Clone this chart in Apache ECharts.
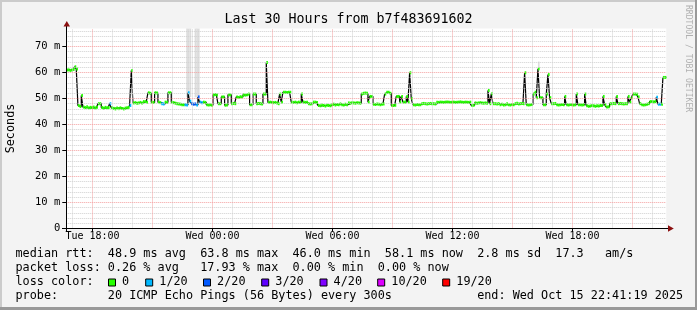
<!DOCTYPE html>
<html><head><meta charset="utf-8">
<script src="https://cdn.jsdelivr.net/npm/echarts@6/dist/echarts.min.js"></script>
<style>html,body{margin:0;padding:0;background:#f3f3f3}#c{width:697px;height:310px}</style>
</head><body><div id="c"></div>
<script>
// ---- data ----
const startHour = 16 + 41/60 + 19/3600;   // Tue 16:41:19, hours since Tue 00:00
const spanHours = 30;
const stepHours = 5/60;                   // 300 s steps
// median rtt in ms, one row per hour (12 x 5-min steps)
const medianRtt = [
 61.0,61.0,60.8,61.0,61.2,62.2,61.3,47.3,46.9,51.2,46.7,46.5,
 46.8,46.4,46.6,46.5,46.7,46.4,46.6,48.0,48.0,46.5,46.3,46.6,
 46.4,46.5,48.0,46.4,46.2,46.0,46.3,46.1,46.4,46.2,46.0,46.3,
 46.4,46.6,47.3,60.8,48.3,48.4,48.2,48.3,48.5,48.3,48.8,48.8,
 48.6,52.2,52.0,48.6,48.5,52.2,52.1,48.6,48.4,48.0,47.9,48.6,
 48.6,52.2,52.2,48.6,48.4,48.2,48.0,47.9,47.8,47.6,47.6,47.6,
 47.5,52.2,49.0,48.0,47.8,47.9,47.5,50.6,48.6,48.4,48.6,48.5,
 47.6,47.5,47.6,47.4,51.4,51.5,51.3,48.0,48.0,50.6,50.6,47.4,
 47.5,51.4,51.4,48.0,48.1,48.0,50.6,50.4,50.7,50.6,51.4,51.3,
 51.4,51.7,47.6,47.6,51.7,51.7,48.0,48.1,48.0,47.9,51.7,51.7,
 63.8,48.5,48.6,48.5,48.4,48.5,48.3,48.0,51.7,48.6,52.4,52.4,
 52.3,52.4,52.4,48.6,48.5,48.6,48.4,48.6,48.5,51.7,48.6,48.5,
 48.6,48.0,47.9,48.0,48.6,48.6,48.5,47.3,47.2,47.5,47.3,47.1,
 47.4,47.3,47.2,47.6,47.8,47.5,47.7,47.6,47.9,47.6,47.5,47.8,
 47.6,48.3,48.2,48.4,48.3,48.2,48.4,48.3,48.2,51.7,52.0,52.1,
 52.0,48.6,50.8,50.8,47.8,47.7,47.9,47.8,47.6,47.8,47.9,51.7,
 52.4,52.4,52.0,47.3,47.3,47.4,50.8,50.8,48.6,50.8,48.6,48.6,
 50.8,48.6,59.9,50.0,47.6,47.5,47.7,47.6,47.6,48.0,48.1,48.0,
 47.9,48.0,48.1,48.0,48.0,47.9,48.6,48.5,48.6,48.6,48.5,48.6,
 48.7,48.6,48.5,48.6,48.6,48.5,48.6,48.6,48.7,48.6,48.5,48.6,
 48.6,48.5,48.6,47.3,47.4,48.3,48.2,48.3,48.4,48.3,48.2,48.3,
 48.2,53.1,48.0,51.8,48.0,48.0,47.9,48.0,47.6,47.8,47.5,47.6,
 48.0,47.6,47.5,47.7,47.6,48.0,48.2,47.9,48.0,48.1,48.0,59.9,
 47.6,47.5,47.6,47.7,51.7,52.4,50.3,61.4,50.3,50.3,47.6,47.6,
 51.7,59.2,50.3,48.0,48.0,48.1,47.6,47.5,47.6,47.7,47.6,50.8,
 47.6,47.5,47.7,47.6,47.5,47.6,51.7,47.6,47.6,47.5,47.6,51.7,
 47.2,47.0,47.1,47.3,47.2,47.0,47.2,47.1,47.3,47.3,50.8,47.6,
 46.7,46.8,48.0,48.0,48.1,48.0,50.8,48.0,48.1,48.0,47.9,48.0,
 48.0,50.8,48.6,50.3,51.7,51.7,51.6,50.6,48.0,47.6,47.5,47.6,
 47.8,48.0,48.8,48.8,48.7,48.8,50.5,47.8,47.8,47.8,58.1,58.1
];
// [step index, loss level index] for steps with packet loss (others: 0)
const lossPoints = [[26,1],[38,1],[57,1],[58,1],[71,1],[72,1],[73,1],[74,1],[75,2],[76,2],[77,2],[78,1],[79,2],[80,1],[81,1],[354,1],[355,1],[356,1]];
// [step index, low ms, high ms] smoke (ping spread) visible in the picture; 76.9 = clipped at top
const smokeRanges = [[72,50.5,76.9],[73,50.5,76.9],[74,50.5,76.9],[77,50.5,76.9],[78,50.5,76.9],[79,50.5,76.9],[283,61.4,64.2]];

const majorHours = [18,21,24,27,30,33,36,39,42,45];
const minorHours = [17,19,20,22,23,25,26,28,29,31,32,34,35,37,38,40,41,43,44,46];
const labelHours = [18,24,30,36,42];
const hourLabels = ['Tue 18:00','Wed 00:00','Wed 06:00','Wed 12:00','Wed 18:00'];
const yMax = 76.923;
const yMajor = [10,20,30,40,50,60,70];
const yMinor = [2,4,6,8,12,14,16,18,22,24,26,28,32,34,36,38,42,44,46,48,52,54,56,58,62,64,66,68,72,74,76];
const yLabelValues = [0,10,20,30,40,50,60,70];

const lossColors = ['#26ff00','#00b8ff','#0059ff','#5e00ff','#7e00ff','#dd00ff','#ff0000'];
const lossNames  = ['0','1/20','2/20','3/20','4/20','10/20','19/20'];

const titleText = 'Last 30 Hours from b7f483691602';
const legendLines = [
 'median rtt:  48.9 ms avg  63.8 ms max  46.0 ms min  58.1 ms now  2.8 ms sd  17.3   am/s',
 'packet loss: 0.26 % avg   17.93 % max  0.00 % min  0.00 % now',
 'loss color:',
 'probe:       20 ICMP Echo Pings (56 Bytes) every 300s            end: Wed Oct 15 22:41:19 2025'
];

// ---- build ----
const MONO = '"DejaVu Sans Mono", monospace';
const lossOf = {};
lossPoints.forEach(p => { lossOf[p[0]] = p[1]; });
const tAt = i => startHour + i * stepHours;
const lineData = medianRtt.map((v, i) => [tAt(i), v]);
lineData.push([tAt(medianRtt.length), medianRtt[medianRtt.length - 1]]);
const segData = medianRtt.map((v, i) => [tAt(i), tAt(i + 1), v, lossOf[i] || 0]);
const smokeData = smokeRanges.map(s => [tAt(s[0]), tAt(s[0] + 1), s[1], s[2]]);

const gridL = 66.27, gridT = 28.5, gridW = 600, gridH = 200;

const gridLines = [];
minorHours.forEach(h => gridLines.push({xAxis: h, lineStyle: {color: '#d0d0d0', type: [1, 1], width: 1}}));
yMinor.forEach(v => gridLines.push({yAxis: v, lineStyle: {color: '#d0d0d0', type: [1, 1], width: 1}}));
majorHours.forEach(h => gridLines.push({xAxis: h, lineStyle: {color: '#f4a0a0', type: [1, 1], width: 1}}));
yMajor.forEach(v => gridLines.push({yAxis: v, lineStyle: {color: '#f4a0a0', type: [1, 1], width: 1}}));

const graphics = [];
// frame shading
graphics.push({type: 'rect', shape: {x: 0, y: 0, width: 697, height: 2}, style: {fill: '#cbcbcb'}, silent: true});
graphics.push({type: 'rect', shape: {x: 0, y: 0, width: 2, height: 310}, style: {fill: '#cbcbcb'}, silent: true});
graphics.push({type: 'rect', shape: {x: 0, y: 307, width: 697, height: 3}, style: {fill: '#999999'}, silent: true});
graphics.push({type: 'rect', shape: {x: 695, y: 0, width: 2, height: 310}, style: {fill: '#999999'}, silent: true});
// title
graphics.push({type: 'text', x: 348.5, y: 19.5, style: {text: titleText, font: '13.3px ' + MONO, fill: '#000', textAlign: 'center', textVerticalAlign: 'middle', align: 'center', verticalAlign: 'middle'}, silent: true});
// vertical axis name
graphics.push({type: 'text', x: 11, y: 128.5, rotation: Math.PI / 2, style: {text: 'Seconds', font: '11.8px ' + MONO, fill: '#000', textAlign: 'center', textVerticalAlign: 'middle', align: 'center', verticalAlign: 'middle'}, silent: true});
// watermark
graphics.push({type: 'text', x: 688, y: 5, rotation: -Math.PI / 2, style: {text: 'RRDTOOL / TOBI OETIKER', font: '8.1px ' + MONO, fill: '#b0b0b0', textAlign: 'left', textVerticalAlign: 'middle', align: 'left', verticalAlign: 'middle'}, silent: true});
// axis extensions and arrows
graphics.push({type: 'line', shape: {x1: 62, y1: 228.5, x2: 669, y2: 228.5}, style: {stroke: '#000', lineWidth: 1}, silent: true, z: 50});
graphics.push({type: 'line', shape: {x1: 66.5, y1: 232, x2: 66.5, y2: 25}, style: {stroke: '#000', lineWidth: 1}, silent: true, z: 50});
graphics.push({type: 'polygon', shape: {points: [[63.5, 26.5], [70, 26.5], [66.8, 21]]}, style: {fill: '#8b1010'}, silent: true, z: 51});
graphics.push({type: 'polygon', shape: {points: [[668, 225.2], [668, 231.8], [673.8, 228.5]]}, style: {fill: '#8b1010'}, silent: true, z: 51});
// legend text
const legY = [254.3, 268.3, 282.3, 296.2];
legendLines.forEach((t, k) => graphics.push({type: 'text', x: 15.5, y: legY[k], style: {text: t, font: '11.8px ' + MONO, fill: '#000', textAlign: 'left', textVerticalAlign: 'middle', align: 'left', verticalAlign: 'middle'}, silent: true}));
const sqX = [108.5, 145.7, 203.5, 261.7, 320, 377.7, 442.7];
lossNames.forEach((n, k) => {
  graphics.push({type: 'rect', shape: {x: sqX[k], y: 279, width: 7, height: 7}, style: {fill: lossColors[k], stroke: '#000', lineWidth: 1}, silent: true});
  graphics.push({type: 'text', x: sqX[k] + 13.6, y: legY[2], style: {text: n, font: '11.8px ' + MONO, fill: '#000', textAlign: 'left', textVerticalAlign: 'middle', align: 'left', verticalAlign: 'middle'}, silent: true});
});

const chart = echarts.init(document.getElementById('c'), null, {renderer: 'canvas'});
chart.setOption({
  animation: false,
  backgroundColor: '#f3f3f3',
  grid: {left: gridL, top: gridT, width: gridW, height: gridH, show: true, backgroundColor: '#ffffff', borderWidth: 0, containLabel: false},
  xAxis: {
    type: 'value', min: startHour, max: startHour + spanHours,
    axisLine: {show: true, lineStyle: {color: '#000', width: 1}},
    axisTick: {show: true, customValues: labelHours, length: 3, lineStyle: {color: '#000'}},
    axisLabel: {show: true, customValues: labelHours, margin: 3, color: '#000', fontFamily: 'DejaVu Sans Mono', fontSize: 10,
      formatter: v => { const k = labelHours.indexOf(Math.round(v)); return k >= 0 ? hourLabels[k] : ''; }},
    splitLine: {show: false}
  },
  yAxis: {
    type: 'value', min: 0, max: yMax, interval: 10,
    axisLine: {show: true, lineStyle: {color: '#000', width: 1}},
    axisTick: {show: true, customValues: yLabelValues, length: 4, lineStyle: {color: '#000'}},
    axisLabel: {show: true, customValues: yLabelValues, margin: 6, color: '#000', fontFamily: 'DejaVu Sans Mono', fontSize: 10.5,
      formatter: v => { if (Math.abs(v) < 1e-9) return '0'; const r = Math.round(v); return (Math.abs(v - r) < 1e-6 && r % 10 === 0) ? r + ' m' : ''; }},
    splitLine: {show: false}
  },
  series: [
    {type: 'line', data: [], z: 1, silent: true,
     markLine: {silent: true, symbol: ['none', 'none'], label: {show: false}, animation: false, data: gridLines}},
    {type: 'custom', z: 2, silent: true, data: smokeData, encode: {x: [0, 1], y: [2, 3]},
     renderItem: (params, api) => {
       const p0 = api.coord([api.value(0), api.value(3)]);
       const p1 = api.coord([api.value(1), api.value(2)]);
       return {type: 'rect', shape: {x: p0[0], y: p0[1], width: p1[0] - p0[0], height: p1[1] - p0[1]}, style: {fill: '#dcdcdc'}};
     }},
    {type: 'line', z: 3, silent: true, data: lineData, step: 'end', symbol: 'none', showSymbol: false,
     lineStyle: {color: '#000', width: 1.2}},
    {type: 'custom', z: 4, silent: true, data: segData, encode: {x: [0, 1], y: 2},
     renderItem: (params, api) => {
       const p0 = api.coord([api.value(0), api.value(2)]);
       const p1 = api.coord([api.value(1), api.value(2)]);
       return {type: 'rect', shape: {x: p0[0], y: p0[1] - 1.5, width: p1[0] - p0[0], height: 3}, style: {fill: lossColors[api.value(3)]}};
     }}
  ],
  graphic: graphics
});
</script></body></html>
